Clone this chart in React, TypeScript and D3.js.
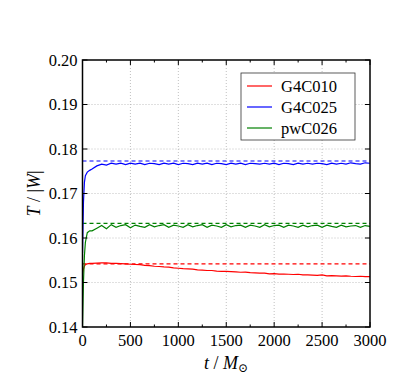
import React from "react";
import * as d3 from "d3";

// time samples (t / M_sun)
const times = [
  0, 10, 20, 30, 50, 75, 100, 150, 200, 250, 300, 350, 400, 450, 500, 550, 600, 650, 700, 750,
  800, 850, 900, 950, 1000, 1050, 1100, 1150, 1200, 1250, 1300, 1350, 1400, 1450, 1500, 1550,
  1600, 1650, 1700, 1750, 1800, 1850, 1900, 1950, 2000, 2050, 2100, 2150, 2200, 2250, 2300,
  2350, 2400, 2450, 2500, 2550, 2600, 2650, 2700, 2750, 2800, 2850, 2900, 2950, 3000,
];

const g4c010 = [
  0.152, 0.153, 0.1537, 0.154, 0.1542, 0.1543, 0.1543, 0.15435, 0.1544, 0.1544, 0.1543, 0.1543,
  0.15425, 0.1542, 0.1541, 0.15405, 0.1540, 0.15385, 0.1538, 0.15365, 0.1536, 0.1535, 0.15345,
  0.1533, 0.1532, 0.1531, 0.15305, 0.1530, 0.15285, 0.1528, 0.1527, 0.1527, 0.15255, 0.1525,
  0.1525, 0.15245, 0.1524, 0.1523, 0.15235, 0.1522, 0.15215, 0.1521, 0.1521, 0.15195, 0.152,
  0.1519, 0.1519, 0.15185, 0.1518, 0.15185, 0.1517, 0.1517, 0.15165, 0.1516, 0.1517, 0.1515,
  0.15155, 0.1515, 0.15145, 0.1515, 0.1514, 0.15135, 0.1514, 0.1513, 0.1513,
];

const g4c025 = [
  0.1566, 0.168, 0.1725, 0.174, 0.1748, 0.1752, 0.1755, 0.1762, 0.1766, 0.1764, 0.1768, 0.1766,
  0.1768, 0.1765, 0.1768, 0.1766, 0.1768, 0.1765, 0.1768, 0.1767, 0.1765, 0.1768, 0.1766,
  0.1768, 0.1765, 0.1768, 0.1767, 0.1765, 0.1768, 0.1766, 0.1768, 0.1765, 0.1768, 0.1767,
  0.1765, 0.1768, 0.1766, 0.1768, 0.1765, 0.1768, 0.1767, 0.1766, 0.1768, 0.1766, 0.1768,
  0.1765, 0.1768, 0.1767, 0.1765, 0.1768, 0.1766, 0.1768, 0.1766, 0.1768, 0.1767, 0.1765,
  0.1768, 0.1766, 0.1768, 0.1766, 0.1769, 0.1767, 0.1766, 0.1769, 0.1768,
];

const pwc026 = [
  0.14, 0.15, 0.156, 0.159, 0.1612, 0.1616, 0.1616, 0.1622, 0.1628, 0.1621, 0.163, 0.1624,
  0.1628, 0.1630, 0.1623, 0.1629, 0.1626, 0.1624, 0.163, 0.1625, 0.1628, 0.163, 0.1624,
  0.1629, 0.1627, 0.1624, 0.163, 0.1625, 0.1628, 0.163, 0.1624, 0.1629, 0.1627, 0.1624,
  0.163, 0.1625, 0.1628, 0.1629, 0.1624, 0.1629, 0.1627, 0.1624, 0.163, 0.1625, 0.1628,
  0.1629, 0.1624, 0.1629, 0.1627, 0.1624, 0.1629, 0.1625, 0.1628, 0.1629, 0.1624, 0.1629,
  0.1626, 0.1624, 0.1629, 0.1625, 0.1627, 0.1628, 0.1624, 0.1628, 0.1626,
];

const refLevels = [0.1542, 0.1773, 0.1633];
const seriesNames = ["G4C010", "G4C025", "pwC026"];
const seriesColors = ["#ff0000", "#0000ff", "#008000"];
const xTicks = [0, 500, 1000, 1500, 2000, 2500, 3000];
const xMinorTicks = [250, 750, 1250, 1750, 2250, 2750];
const yTicks = [0.14, 0.15, 0.16, 0.17, 0.18, 0.19, 0.2];

const W = 411;
const H = 377;
const m = { left: 82.5, right: 41, top: 60, bottom: 50 };

const serif = { fontFamily: "Liberation Serif, Times New Roman, DejaVu Serif, serif" };

const App = () => {
  const x = d3.scaleLinear().domain([0, 3000]).range([m.left, W - m.right]);
  const y = d3.scaleLinear().domain([0.14, 0.2]).range([H - m.bottom, m.top]);
  const allSeries = [g4c010, g4c025, pwc026];

  const line = d3
    .line<number>()
    .x((_, i) => x(times[i]))
    .y((d) => y(d));

  const x0 = x(0);
  const x1 = x(3000);
  const y0 = y(0.14);
  const y1 = y(0.2);

  return (
    <svg width={W} height={H} style={{ display: "block", position: "absolute", left: 0, top: 0 }}>
      <rect width={W} height={H} fill="white" />
      <defs>
        <clipPath id="plot">
          <rect x={x0} y={y1} width={x1 - x0} height={y0 - y1} />
        </clipPath>
      </defs>
      {/* grid */}
      {xTicks.slice(1, -1).map((t) => (
        <line key={"gx" + t} x1={x(t)} x2={x(t)} y1={y0} y2={y1} stroke="#b0b0b0" strokeWidth={0.8} strokeDasharray="1,2" />
      ))}
      {yTicks.slice(1, -1).map((t) => (
        <line key={"gy" + t} x1={x0} x2={x1} y1={y(t)} y2={y(t)} stroke="#b0b0b0" strokeWidth={0.8} strokeDasharray="1,2" />
      ))}
      <g clipPath="url(#plot)">
        {refLevels.map((v, i) => (
          <line key={"ref" + i} x1={x0} x2={x1} y1={y(v)} y2={y(v)} stroke={seriesColors[i]} strokeWidth={1.2} strokeDasharray="4,3" />
        ))}
        {allSeries.map((s, i) => (
          <path key={"s" + i} d={line(s) ?? ""} fill="none" stroke={seriesColors[i]} strokeWidth={1.2} />
        ))}
      </g>
      {/* ticks, inward on all sides */}
      {xTicks.map((t) => (
        <g key={"xt" + t}>
          <line x1={x(t)} x2={x(t)} y1={y0} y2={y0 - 5} stroke="black" />
          <line x1={x(t)} x2={x(t)} y1={y1} y2={y1 + 5} stroke="black" />
          <text x={x(t)} y={y0 + 19} textAnchor="middle" style={serif} fontSize={16.5}>
            {t}
          </text>
        </g>
      ))}
      {xMinorTicks.map((t) => (
        <g key={"xm" + t}>
          <line x1={x(t)} x2={x(t)} y1={y0} y2={y0 - 2.5} stroke="black" />
          <line x1={x(t)} x2={x(t)} y1={y1} y2={y1 + 2.5} stroke="black" />
        </g>
      ))}
      {yTicks.map((t) => (
        <g key={"yt" + t}>
          <line x1={x0} x2={x0 + 5} y1={y(t)} y2={y(t)} stroke="black" />
          <line x1={x1} x2={x1 - 5} y1={y(t)} y2={y(t)} stroke="black" />
          <text x={x0 - 5} y={y(t) + 5.5} textAnchor="end" style={serif} fontSize={16.5}>
            {d3.format(".2f")(t)}
          </text>
        </g>
      ))}
      <rect x={x0} y={y1} width={x1 - x0} height={y0 - y1} fill="none" stroke="black" strokeWidth={1.5} />
      {/* axis labels */}
      <text x={226} y={369} textAnchor="middle" style={serif} fontSize={18}>
        <tspan fontStyle="italic">t</tspan>
        <tspan> / </tspan>
        <tspan fontStyle="italic">M</tspan>
        <tspan fontSize={12} dy={3}>⊙</tspan>
      </text>
      <text transform={`translate(40, ${(y0 + y1) / 2}) rotate(-90)`} textAnchor="middle" style={serif} fontSize={18}>
        <tspan fontStyle="italic">T</tspan>
        <tspan> / |</tspan>
        <tspan fontStyle="italic">W</tspan>
        <tspan>|</tspan>
      </text>
      {/* legend */}
      <rect x={241} y={73} width={114} height={67} fill="white" stroke="#333" strokeWidth={0.8} />
      {seriesNames.map((n, i) => (
        <g key={"lg" + i}>
          <line x1={247} x2={272} y1={86 + i * 21} y2={86 + i * 21} stroke={seriesColors[i]} strokeWidth={1.2} />
          <text x={281} y={86 + i * 21 + 5.5} style={serif} fontSize={16.5}>
            {n}
          </text>
        </g>
      ))}
    </svg>
  );
};

export default App;
